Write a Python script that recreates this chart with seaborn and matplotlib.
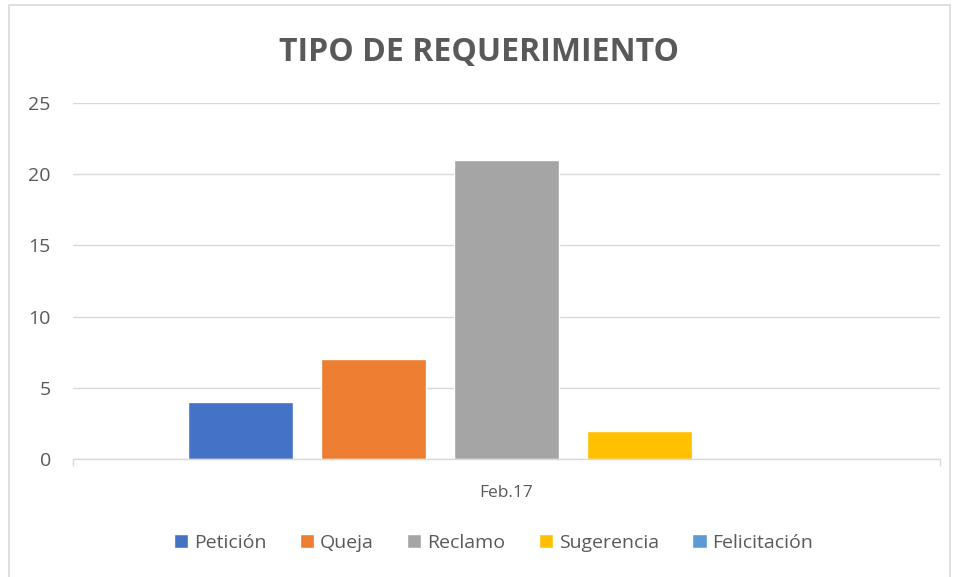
import pandas as pd
import matplotlib.pyplot as plt
import seaborn as sns
from matplotlib.patches import Rectangle

# Data
periodo = ["Feb.17"]
tipos = ["Petición", "Queja", "Reclamo", "Sugerencia", "Felicitación"]
cantidades = [4, 7, 21, 2, 0]
colores = ["#4472C4", "#ED7D31", "#A5A5A5", "#FFC000", "#5B9BD5"]

df = pd.DataFrame({"Periodo": periodo * len(tipos), "Tipo": tipos, "Cantidad": cantidades})

sns.set_style("white")
plt.rcParams['font.family'] = ['Open Sans', 'DejaVu Sans']
txt = "#595959"

fig = plt.figure(figsize=(9.58, 5.77), dpi=100)
ax = fig.add_axes([73/958, 1 - 459/577, 867/958, 356/577])

sns.barplot(data=df, x="Periodo", y="Cantidad", hue="Tipo", hue_order=tipos,
            palette=colores, width=0.767, gap=0.21, ax=ax, legend=True,
            saturation=1)

ax.set_ylim(0, 25)
ax.set_xlim(-0.5, 0.5)
ax.set_yticks(range(0, 26, 5))
ax.set_xticks([-0.5, 0.5], minor=True)
ax.yaxis.grid(True, color="#D9D9D9", linewidth=1)
ax.set_axisbelow(True)
for s in ["top", "right", "left"]:
    ax.spines[s].set_visible(False)
ax.spines["bottom"].set_color("#D9D9D9")
ax.spines["bottom"].set_linewidth(1)
ax.tick_params(axis="y", length=0, labelsize=14, labelcolor=txt, pad=16)
ax.tick_params(axis="x", which="major", length=0, labelsize=12.5, labelcolor=txt, pad=19)
ax.tick_params(axis="x", which="minor", length=5, width=1, color="#D9D9D9", bottom=True)
ax.set_xlabel("")
ax.set_ylabel("")

fig.text(0.5, 1 - 52/577, "TIPO DE REQUERIMIENTO", ha="center", va="center",
         fontsize=23, fontweight="bold", color=txt)

ax.legend(loc="center", bbox_to_anchor=(0.485, (459 - 543) / 356), ncol=5,
          frameon=False, fontsize=14, labelcolor=txt, handlelength=0.75,
          handleheight=0.75, handletextpad=0.3, columnspacing=1.7)

fig.patches.append(Rectangle((9/958, -0.01), 941/958, 1 - 5/577 + 0.01,
                             transform=fig.transFigure, fill=False,
                             edgecolor="#D9D9D9", linewidth=1.2))

fig.savefig("out.png", dpi=100)
